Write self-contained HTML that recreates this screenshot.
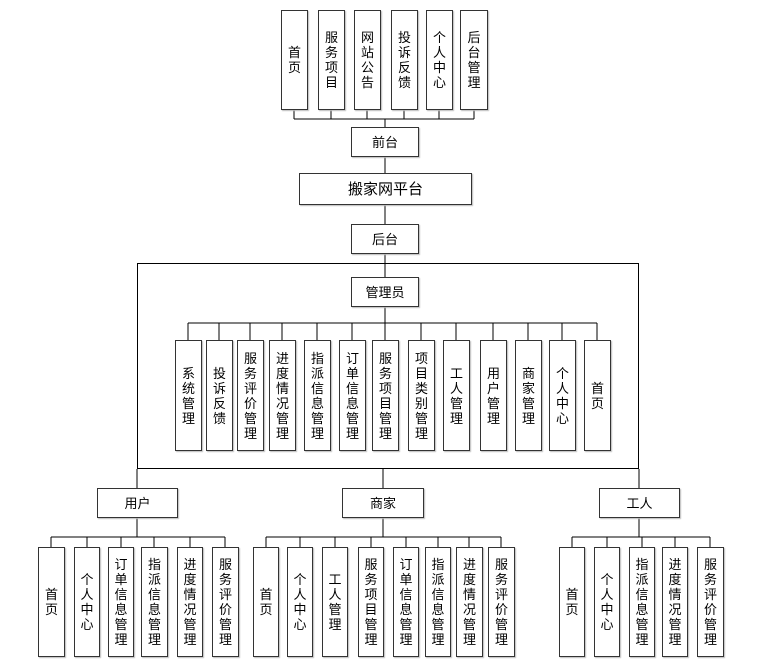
<!DOCTYPE html>
<html><head><meta charset="utf-8"><style>
body{margin:0;background:#fff;width:762px;height:667px;position:relative;overflow:hidden;font-family:"Liberation Sans","Noto Sans CJK SC",sans-serif;color:#000}
.b{position:absolute;box-sizing:border-box;border:1px solid #333;background:#fff;box-shadow:1px 1px 1px #bbb;display:flex;align-items:center;justify-content:center;text-align:center;font-size:13px;line-height:15px}
svg{position:absolute;left:0;top:0}
</style></head><body>
<svg width="762" height="667" stroke="#000" stroke-width="1" fill="none" shape-rendering="crispEdges">
<path d="M294 110V119M331 110V119M367 110V119M404 110V119M439 110V119M474 110V119M294 119H474M385 119V127M385 157V173M385 205V224M385 254V263"/>
<rect x="137.5" y="263.5" width="501" height="205"/>
<path d="M385 263V277M385 307V323M188 323H597M188 323V340M219 323V340M250 323V340M282 323V340M317 323V340M352 323V340M385 323V340M421 323V340M456 323V340M493 323V340M528 323V340M562 323V340M597 323V340"/>
<path d="M137 469V488M383 469V488M639 469V488"/>
<path d="M137 518V537M51 537H225M51 537V547M87 537V547M121 537V547M154 537V547M190 537V547M225 537V547"/>
<path d="M383 518V537M266 537H501M266 537V547M300 537V547M335 537V547M371 537V547M406 537V547M438 537V547M469 537V547M501 537V547"/>
<path d="M639 518V537M572 537H710M572 537V547M607 537V547M642 537V547M675 537V547M710 537V547"/>
</svg>

<div class="b" style="left:281px;top:10px;width:27px;height:100px">首<br>页</div>
<div class="b" style="left:318px;top:10px;width:27px;height:100px">服<br>务<br>项<br>目</div>
<div class="b" style="left:354px;top:10px;width:27px;height:100px">网<br>站<br>公<br>告</div>
<div class="b" style="left:391px;top:10px;width:27px;height:100px">投<br>诉<br>反<br>馈</div>
<div class="b" style="left:426px;top:10px;width:27px;height:100px">个<br>人<br>中<br>心</div>
<div class="b" style="left:460px;top:10px;width:28px;height:100px">后<br>台<br>管<br>理</div>

<div class="b" style="left:351px;top:127px;width:68px;height:30px">前台</div>
<div class="b" style="left:299px;top:173px;width:173px;height:32px;font-size:15px">搬家网平台</div>
<div class="b" style="left:351px;top:224px;width:68px;height:30px">后台</div>
<div class="b" style="left:351px;top:277px;width:68px;height:30px">管理员</div>

<div class="b" style="left:175px;top:340px;width:27px;height:111px">系<br>统<br>管<br>理</div>
<div class="b" style="left:206px;top:340px;width:27px;height:111px">投<br>诉<br>反<br>馈</div>
<div class="b" style="left:237px;top:340px;width:27px;height:111px">服<br>务<br>评<br>价<br>管<br>理</div>
<div class="b" style="left:269px;top:340px;width:27px;height:111px">进<br>度<br>情<br>况<br>管<br>理</div>
<div class="b" style="left:304px;top:340px;width:27px;height:111px">指<br>派<br>信<br>息<br>管<br>理</div>
<div class="b" style="left:339px;top:340px;width:27px;height:111px">订<br>单<br>信<br>息<br>管<br>理</div>
<div class="b" style="left:372px;top:340px;width:27px;height:111px">服<br>务<br>项<br>目<br>管<br>理</div>
<div class="b" style="left:408px;top:340px;width:27px;height:111px">项<br>目<br>类<br>别<br>管<br>理</div>
<div class="b" style="left:443px;top:340px;width:27px;height:111px">工<br>人<br>管<br>理</div>
<div class="b" style="left:480px;top:340px;width:27px;height:111px">用<br>户<br>管<br>理</div>
<div class="b" style="left:515px;top:340px;width:27px;height:111px">商<br>家<br>管<br>理</div>
<div class="b" style="left:549px;top:340px;width:27px;height:111px">个<br>人<br>中<br>心</div>
<div class="b" style="left:584px;top:340px;width:27px;height:111px">首<br>页</div>

<div class="b" style="left:97px;top:488px;width:81px;height:30px">用户</div>
<div class="b" style="left:342px;top:488px;width:82px;height:30px">商家</div>
<div class="b" style="left:599px;top:488px;width:81px;height:30px">工人</div>

<div class="b" style="left:38px;top:547px;width:27px;height:110px">首<br>页</div>
<div class="b" style="left:74px;top:547px;width:26px;height:110px">个<br>人<br>中<br>心</div>
<div class="b" style="left:108px;top:547px;width:26px;height:110px">订<br>单<br>信<br>息<br>管<br>理</div>
<div class="b" style="left:141px;top:547px;width:27px;height:110px">指<br>派<br>信<br>息<br>管<br>理</div>
<div class="b" style="left:177px;top:547px;width:26px;height:110px">进<br>度<br>情<br>况<br>管<br>理</div>
<div class="b" style="left:212px;top:547px;width:27px;height:110px">服<br>务<br>评<br>价<br>管<br>理</div>

<div class="b" style="left:253px;top:547px;width:26px;height:110px">首<br>页</div>
<div class="b" style="left:287px;top:547px;width:26px;height:110px">个<br>人<br>中<br>心</div>
<div class="b" style="left:322px;top:547px;width:26px;height:110px">工<br>人<br>管<br>理</div>
<div class="b" style="left:358px;top:547px;width:26px;height:110px">服<br>务<br>项<br>目<br>管<br>理</div>
<div class="b" style="left:393px;top:547px;width:26px;height:110px">订<br>单<br>信<br>息<br>管<br>理</div>
<div class="b" style="left:425px;top:547px;width:26px;height:110px">指<br>派<br>信<br>息<br>管<br>理</div>
<div class="b" style="left:456px;top:547px;width:27px;height:110px">进<br>度<br>情<br>况<br>管<br>理</div>
<div class="b" style="left:488px;top:547px;width:27px;height:110px">服<br>务<br>评<br>价<br>管<br>理</div>

<div class="b" style="left:559px;top:547px;width:26px;height:110px">首<br>页</div>
<div class="b" style="left:594px;top:547px;width:26px;height:110px">个<br>人<br>中<br>心</div>
<div class="b" style="left:629px;top:547px;width:26px;height:110px">指<br>派<br>信<br>息<br>管<br>理</div>
<div class="b" style="left:662px;top:547px;width:26px;height:110px">进<br>度<br>情<br>况<br>管<br>理</div>
<div class="b" style="left:697px;top:547px;width:27px;height:110px">服<br>务<br>评<br>价<br>管<br>理</div>
</body></html>
